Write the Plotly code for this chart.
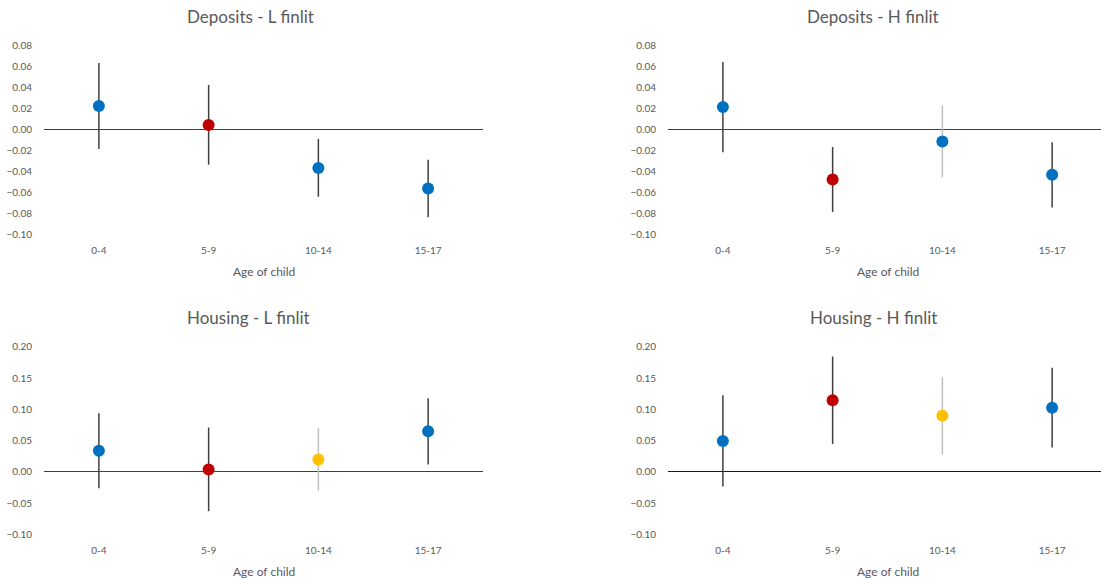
import plotly.graph_objects as go

# Age groups of the child
categories = ["0-4", "5-9", "10-14", "15-17"]

# Point estimates and half-width of confidence intervals
dep_L = [0.022, 0.004, -0.037, -0.0565]
dep_L_ci = [0.041, 0.038, 0.0275, 0.0273]

dep_H = [0.021, -0.048, -0.0118, -0.0435]
dep_H_ci = [0.043, 0.031, 0.034, 0.031]

hou_L = [0.034, 0.004, 0.020, 0.065]
hou_L_ci = [0.060, 0.067, 0.050, 0.053]

hou_H = [0.0495, 0.1145, 0.090, 0.1027]
hou_H_ci = [0.073, 0.070, 0.0616, 0.0638]

titles = ["Deposits - L finlit", "Deposits - H finlit",
          "Housing - L finlit", "Housing - H finlit"]

BLUE, RED, YELLOW = "#0070C0", "#C00000", "#FFC000"
DARK, LIGHT = "#404040", "#BFBFBF"

panels = [
    dict(y=dep_L, ci=dep_L_ci, colors=[BLUE, RED, BLUE, BLUE],
         bars=[DARK, DARK, DARK, DARK], zc="#404040"),
    dict(y=dep_H, ci=dep_H_ci, colors=[BLUE, RED, BLUE, BLUE],
         bars=[DARK, DARK, LIGHT, DARK], zc="#404040"),
    dict(y=hou_L, ci=hou_L_ci, colors=[BLUE, RED, YELLOW, BLUE],
         bars=[DARK, DARK, LIGHT, DARK], zc="#404040"),
    dict(y=hou_H, ci=hou_H_ci, colors=[BLUE, RED, YELLOW, BLUE],
         bars=[DARK, DARK, LIGHT, DARK], zc="#1a1a1a"),
]

W, H = 1101, 582
FONT = "Lato"
GREY = "#595959"


def py(t):
    """Vertical page position (px from top) converted for layout use."""
    return (t - 6.3) / 0.98


# Pixel layout of each plot area: (left, right, top, bottom)
step = 109.75
boxes = [
    (44, 483, 44.5, 234),
    (668, 1101, 44.5, 234),
    (44, 483, 347, 535),
    (668, 1101, 347, 535),
]
yranges = [[-0.10, 0.08], [-0.10, 0.08], [-0.10, 0.20], [-0.10, 0.20]]
ydticks = [0.02, 0.02, 0.05, 0.05]
title_x = [250, 873, 248, 873]
title_y = [16, 16, 318, 318]

fig = go.Figure()
annotations = []

for i, p in enumerate(panels):
    n = i + 1
    xa = "x" if n == 1 else f"x{n}"
    ya = "y" if n == 1 else f"y{n}"
    for c, v, e, mc, bc in zip(categories, p["y"], p["ci"], p["colors"], p["bars"]):
        fig.add_trace(go.Scatter(
            x=[c], y=[v], mode="markers", xaxis=xa, yaxis=ya,
            marker=dict(color=mc, size=12, line=dict(width=0)),
            error_y=dict(type="data", array=[e], visible=True,
                         color=bc, thickness=1.5, width=0),
            showlegend=False, hoverinfo="skip",
        ))
    l, r, t, b = boxes[i]
    xr_end = -0.5 + (r - l) / step
    fig.layout[f"xaxis{'' if n == 1 else n}"] = dict(
        domain=[l / W, r / W], anchor=ya, type="category",
        categoryorder="array", categoryarray=categories,
        range=[-0.5, xr_end], showgrid=False, zeroline=False,
        showline=False, ticks="outside", ticklen=7, tickcolor="rgba(0,0,0,0)",
        tickfont=dict(family=FONT, size=10, color=GREY),
        fixedrange=True,
    )
    fig.layout[f"yaxis{'' if n == 1 else n}"] = dict(
        domain=[1 - py(b) / H, 1 - py(t) / H], anchor=xa,
        range=yranges[i], dtick=ydticks[i], tick0=0, tickformat=".2f",
        showgrid=False, showline=False,
        zeroline=True, zerolinecolor=p["zc"], zerolinewidth=1.4,
        ticks="outside", ticklen=9, tickcolor="rgba(0,0,0,0)",
        tickfont=dict(family=FONT, size=10, color=GREY),
        fixedrange=True,
    )
    annotations.append(dict(
        text=titles[i], x=title_x[i] / W, y=1 - py(title_y[i]) / H,
        xref="paper", yref="paper", xanchor="center", yanchor="middle",
        showarrow=False, font=dict(family=FONT, size=17, color=GREY),
    ))
    axis_mid = (l + l + 4 * step) / 2
    annotations.append(dict(
        text="Age of child", x=axis_mid / W, y=1 - py(b + 37) / H,
        xref="paper", yref="paper", xanchor="center", yanchor="middle",
        showarrow=False, font=dict(family=FONT, size=12, color=GREY),
    ))

fig.update_layout(
    width=W, height=H, margin=dict(l=0, r=0, t=0, b=0),
    paper_bgcolor="white", plot_bgcolor="white",
    annotations=annotations,
)

fig.write_html("out.html")
